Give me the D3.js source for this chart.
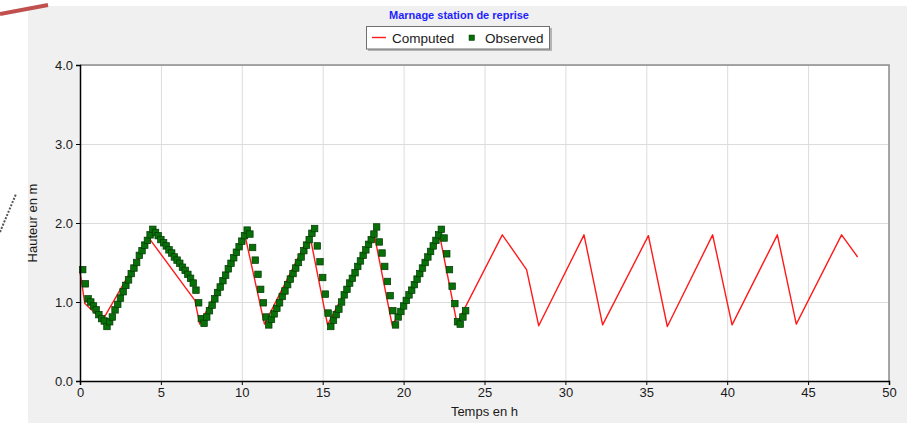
<!DOCTYPE html>
<html>
<head>
<meta charset="utf-8">
<script src="https://cdn.jsdelivr.net/npm/d3@7/dist/d3.min.js"></script>
<style>
  html, body { margin: 0; padding: 0; background: #ffffff; }
  svg { display: block; font-family: "Liberation Sans", Arial, sans-serif; }
</style>
</head>
<body>
<svg id="chart" width="922" height="423"></svg>
<script>
// ---------------- DATA ----------------
const chartTitle = "Marnage station de reprise";
const xLabel = "Temps en h";
const yLabel = "Hauteur en m";
const seriesNames = ["Computed", "Observed"];
const xTicks = [0, 5, 10, 15, 20, 25, 30, 35, 40, 45, 50];
const yTicks = [0, 1, 2, 3, 4];

// Computed (red line): time (h) and height (m)
const computedT = [0, 0.3, 1.4, 4.3, 7.1, 7.4, 10.2, 11.4, 14.2, 15.3, 18.2, 19.3, 22.25, 23.3,
                   26.1, 27.6, 28.35, 31.15, 32.3, 35.13, 36.3, 39.1, 40.3, 43.1, 44.27, 47.07, 48.06];
const computedH = [1.38, 0.98, 0.77, 1.80, 1.02, 0.72, 1.84, 0.72, 1.85, 0.71, 1.84, 0.70, 1.82, 0.73,
                   1.85, 1.41, 0.70, 1.85, 0.71, 1.84, 0.69, 1.85, 0.71, 1.85, 0.72, 1.85, 1.57];

// Observed (green squares): sampled every 10 minutes, first sample at t = 1/6 h
const observedStart = 1 / 6;
const observedStep = 1 / 6;
const observedH = [
  1.41, 1.23, 1.04, 1.00, 0.95, 0.90, 0.84, 0.79, 0.76, 0.69,
  0.75, 0.81, 0.90, 0.97, 1.05, 1.13, 1.21, 1.28, 1.36, 1.43, 1.50, 1.59, 1.65, 1.72, 1.78, 1.85, 1.92,
  1.88, 1.84, 1.79, 1.75, 1.71, 1.66, 1.62, 1.57, 1.53, 1.49, 1.44, 1.40, 1.35, 1.30, 1.24, 1.15,
  0.99, 0.79, 0.73,
  0.81, 0.89, 0.96, 1.04, 1.12, 1.19, 1.27, 1.34, 1.42, 1.49, 1.56, 1.63, 1.70, 1.77, 1.84, 1.91,
  1.86, 1.69, 1.53, 1.35, 1.16, 0.99, 0.81, 0.71,
  0.78, 0.85, 0.92, 0.99, 1.07, 1.14, 1.22, 1.29, 1.36, 1.43, 1.50, 1.57, 1.65, 1.72, 1.79, 1.87, 1.93,
  1.71, 1.51, 1.31, 1.10, 0.86, 0.69,
  0.77, 0.84, 0.91, 1.00, 1.09, 1.16, 1.24, 1.30, 1.37, 1.45, 1.52, 1.59, 1.66, 1.73, 1.79, 1.86, 1.95,
  1.76, 1.62, 1.45, 1.26, 1.08, 0.89, 0.71,
  0.81, 0.88, 0.95, 1.02, 1.09, 1.15, 1.22, 1.29, 1.36, 1.43, 1.50, 1.57, 1.64, 1.71, 1.78, 1.85, 1.92,
  1.81, 1.61, 1.41, 1.20, 0.98, 0.75, 0.72, 0.81, 0.89
];

// ---------------- DRAW ----------------
const svg = d3.select("#chart");
const W = 922, H = 423;
const plot = { left: 80, right: 889, top: 65, bottom: 381 };

// grey panel
svg.append("rect").attr("x", 28).attr("y", 6).attr("width", 879).attr("height", H - 6)
  .attr("fill", "#f0f0f0");

// stray screenshot decorations (on top of panel edge)
svg.append("line").attr("x1", 0).attr("y1", 14).attr("x2", 48).attr("y2", 5)
  .attr("stroke", "#c0504d").attr("stroke-width", 4);
svg.append("line").attr("x1", 0).attr("y1", 232).attr("x2", 16).attr("y2", 194)
  .attr("stroke", "#555").attr("stroke-width", 2).attr("stroke-dasharray", "2,1.5");

const x = d3.scaleLinear().domain([0, 50]).range([plot.left, plot.right]);
const y = d3.scaleLinear().domain([0, 4]).range([plot.bottom, plot.top]);

// plot background
svg.append("rect").attr("x", plot.left).attr("y", plot.top)
  .attr("width", plot.right - plot.left).attr("height", plot.bottom - plot.top)
  .attr("fill", "#ffffff");

// grid
const gx = svg.append("g").attr("transform", `translate(0,${plot.bottom})`)
  .call(d3.axisBottom(x).tickValues(xTicks).tickSize(-(plot.bottom - plot.top)).tickFormat(""));
gx.select(".domain").remove();
gx.selectAll("line").attr("stroke", "#dcdcdc").attr("stroke-width", 1);
const gy = svg.append("g").attr("transform", `translate(${plot.left},0)`)
  .call(d3.axisLeft(y).tickValues(yTicks).tickSize(-(plot.right - plot.left)).tickFormat(""));
gy.select(".domain").remove();
gy.selectAll("line").attr("stroke", "#dcdcdc").attr("stroke-width", 1);

// frame top/right
svg.append("path")
  .attr("d", `M${plot.left},${plot.top}H${plot.right}V${plot.bottom}`)
  .attr("fill", "none").attr("stroke", "#8c8c8c").attr("stroke-width", 1.5);

// computed line
const computed = computedT.map((t, i) => ({ t, h: computedH[i] }));
svg.append("path").datum(computed)
  .attr("fill", "none").attr("stroke", "#ff1a1a").attr("stroke-width", 1.4)
  .attr("stroke-linejoin", "round")
  .attr("d", d3.line().x(d => x(d.t)).y(d => y(d.h)));

// observed squares
const observed = observedH.map((h, i) => ({ t: observedStart + i * observedStep, h }));
const sq = 6.5;
svg.append("g").selectAll("rect").data(observed).join("rect")
  .attr("x", d => x(d.t) - sq / 2).attr("y", d => y(d.h) - sq / 2)
  .attr("width", sq).attr("height", sq)
  .attr("fill", "#087008").attr("stroke", "#033803").attr("stroke-width", 0.7);

// axes
const ax = svg.append("g").attr("transform", `translate(0,${plot.bottom})`)
  .call(d3.axisBottom(x).tickValues(xTicks).tickSize(4).tickPadding(3).tickFormat(d3.format("d")));
const ay = svg.append("g").attr("transform", `translate(${plot.left},0)`)
  .call(d3.axisLeft(y).tickValues(yTicks).tickSize(4).tickPadding(3).tickFormat(d3.format(".1f")));
[ax, ay].forEach(g => {
  g.select(".domain").attr("stroke", "#000").attr("stroke-width", 1.5);
  g.selectAll(".tick line").attr("stroke", "#000");
  g.selectAll(".tick text").attr("fill", "#1a1a1a")
    .style("font-family", '"Liberation Sans", Arial, sans-serif').style("font-size", "13px");
});

// title
svg.append("text").attr("x", 459).attr("y", 19).attr("text-anchor", "middle")
  .attr("fill", "#1f1fff").style("font-weight", "bold").style("font-size", "11px")
  .text(chartTitle);

// axis labels
svg.append("text").attr("x", (plot.left + plot.right) / 2).attr("y", 416)
  .attr("text-anchor", "middle").attr("fill", "#1a1a1a").style("font-size", "13px")
  .text(xLabel);
svg.append("text").attr("transform", `translate(37,${(plot.top + plot.bottom) / 2}) rotate(-90)`)
  .attr("text-anchor", "middle").attr("fill", "#1a1a1a").style("font-size", "13px")
  .text(yLabel);

// legend
const lg = svg.append("g");
lg.append("rect").attr("x", 368).attr("y", 28).attr("width", 184).attr("height", 23)
  .attr("fill", "#b4b4b4");
lg.append("rect").attr("x", 366.5).attr("y", 26.5).attr("width", 183).attr("height", 22.5)
  .attr("fill", "#ffffff").attr("stroke", "#707070").attr("stroke-width", 1);
lg.append("line").attr("x1", 372).attr("x2", 386).attr("y1", 37.5).attr("y2", 37.5)
  .attr("stroke", "#ff1a1a").attr("stroke-width", 1.4);
lg.append("text").attr("x", 392).attr("y", 42.5).attr("fill", "#1a1a1a")
  .style("font-size", "13.5px").text(seriesNames[0]);
lg.append("rect").attr("x", 469).attr("y", 35).attr("width", 5.5).attr("height", 5.5)
  .attr("fill", "#087008").attr("stroke", "#033803").attr("stroke-width", 0.5);
lg.append("text").attr("x", 485).attr("y", 42.5).attr("fill", "#1a1a1a")
  .style("font-size", "13.5px").text(seriesNames[1]);
</script>
</body>
</html>
